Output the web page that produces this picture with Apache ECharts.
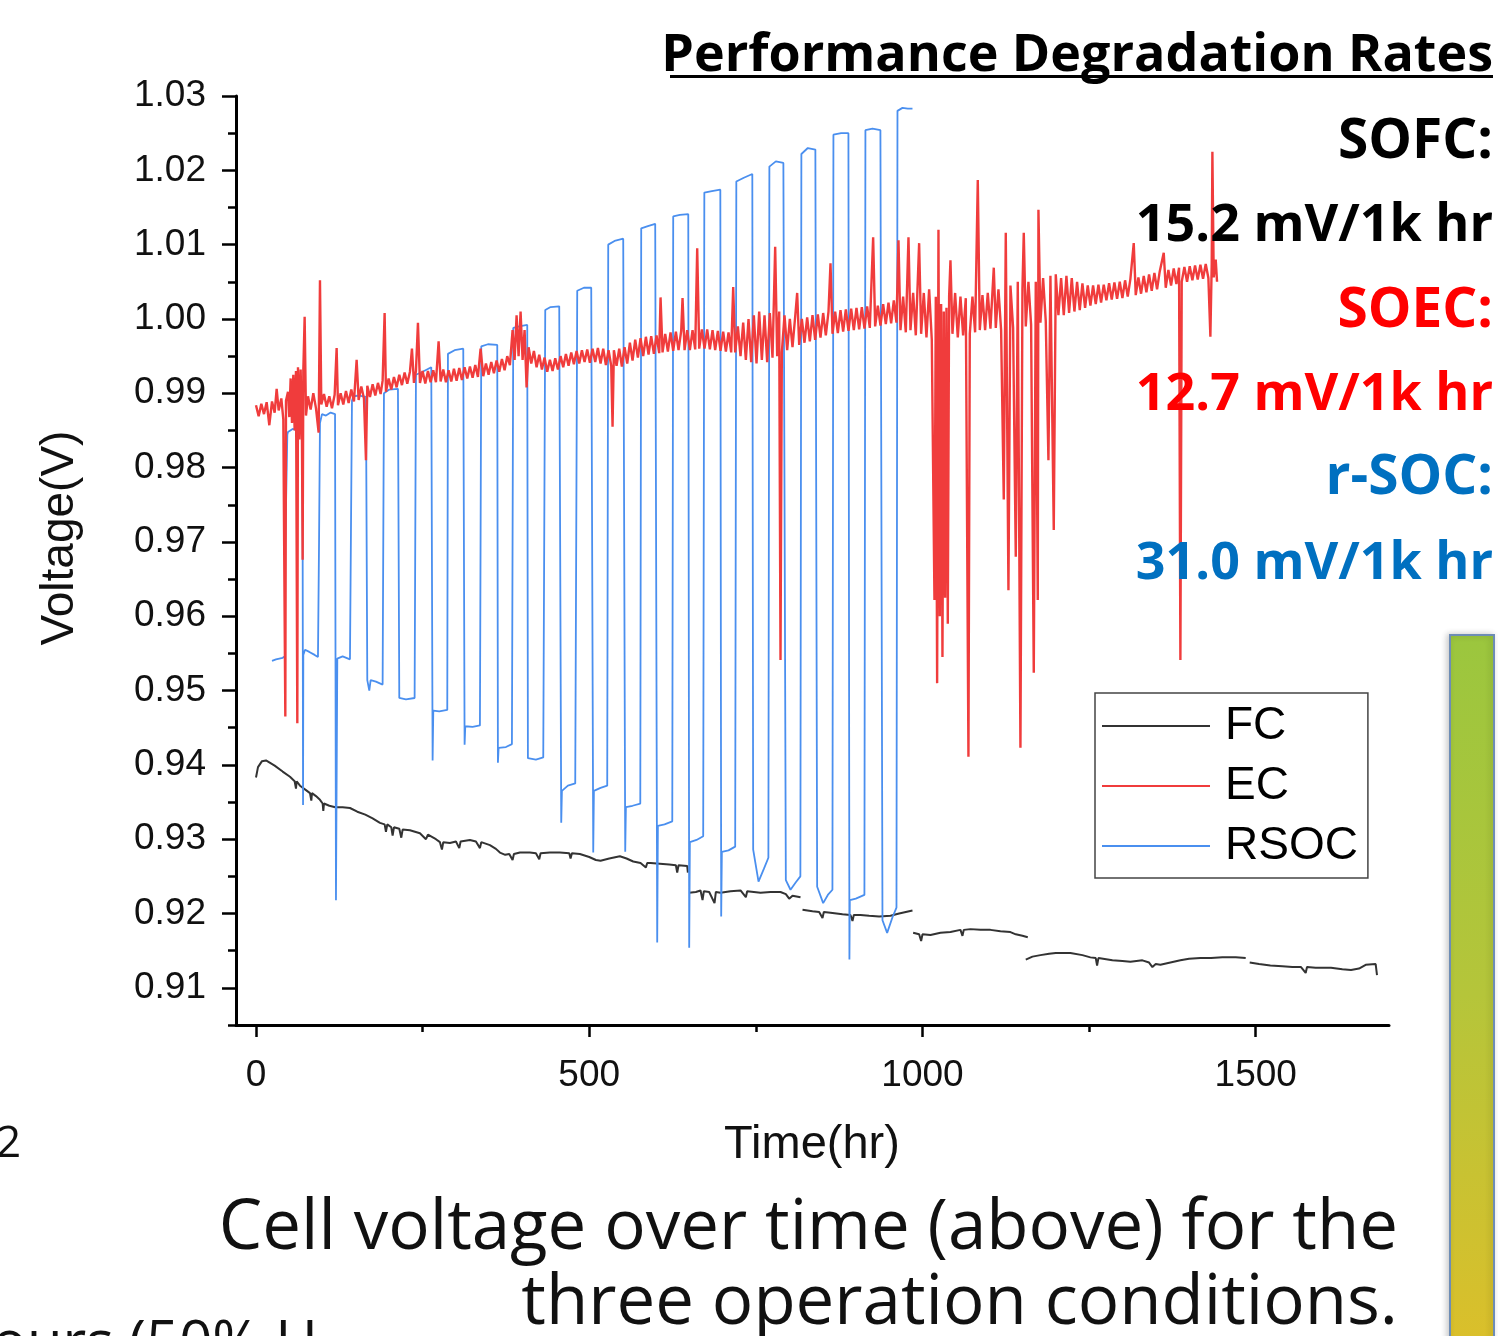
<!DOCTYPE html>
<html>
<head>
<meta charset="utf-8">
<script src="https://cdn.jsdelivr.net/npm/echarts@6/dist/echarts.min.js"></script>
<style>
html,body{margin:0;padding:0;background:#fff;}
#chart{width:1498px;height:1336px;}
</style>
</head>
<body>
<div id="chart"></div>
<script>
// ---- axis ticks ----
var xMajorTicks = [0, 500, 1000, 1500];
var xMinorTicks = [250, 750, 1250];
var yMajorTicks = [0.91, 0.92, 0.93, 0.94, 0.95, 0.96, 0.97, 0.98, 0.99, 1.00, 1.01, 1.02, 1.03];
var yMinorTicks = [0.905, 0.915, 0.925, 0.935, 0.945, 0.955, 0.965, 0.975, 0.985, 0.995, 1.005, 1.015, 1.025];
var seriesNames = ['FC', 'EC', 'RSOC'];

// ---- FC (fuel cell) voltage, [time h, V], segments ----
var fcSeg1 = [[0,0.9383],[3,0.9397],[9,0.9405],[15,0.9406],[28,0.9399],[40,0.9391],[51,0.9384],[58,0.9378],[60,0.9368],[61,0.9378],[66,0.9372],[75,0.9366],[81,0.9362],[83,0.9352],[84,0.9362],[90,0.9358],[96,0.9353],[100,0.9348],[101,0.9338],[102,0.9348],[110,0.9345],[119,0.9343],[130,0.9343],[141,0.9342],[152,0.9337],[164,0.9333],[175,0.9328],[186,0.9322],[193,0.9320],[195,0.9310],[197,0.9320],[203,0.9316],[205,0.9305],[207,0.9316],[209,0.9315],[215,0.9314],[218,0.9302],[220,0.9313],[231,0.9312],[246,0.9308],[255,0.9300],[258,0.9306],[261,0.9304],[270,0.9300],[276,0.9296],[279,0.9286],[281,0.9296],[291,0.9295],[300,0.9297],[305,0.9288],[307,0.9297],[321,0.9299],[330,0.9297],[336,0.9288],[338,0.9296],[351,0.9292],[360,0.9287],[366,0.9282],[374,0.9279],[380,0.9280],[385,0.9272],[387,0.9280],[396,0.9282],[411,0.9282],[420,0.9281],[425,0.9273],[427,0.9281],[441,0.9282],[456,0.9282],[470,0.9281],[472,0.9274],[474,0.9281],[486,0.9280],[500,0.9276],[510,0.9272],[517,0.9271],[530,0.9274],[546,0.9277],[556,0.9274],[566,0.9270],[577,0.9268],[585,0.9262],[587,0.9268],[592,0.9268],[606,0.9267],[620,0.9266],[630,0.9265],[632,0.9255],[634,0.9265],[647,0.9264],[648,0.9255]];
var fcSeg2 = [[650,0.9228],[660,0.9229],[667,0.9231],[670,0.9218],[672,0.9230],[680,0.9229],[688,0.9214],[690,0.9229],[697,0.9228],[712,0.9230],[727,0.9231],[735,0.9222],[737,0.9230],[757,0.9228],[772,0.9229],[787,0.9229],[795,0.9226],[800,0.9220],[805,0.9224],[817,0.9222]];
var fcSeg3 = [[820,0.9205],[835,0.9203],[845,0.9202],[850,0.9194],[852,0.9202],[862,0.9201],[880,0.9199],[892,0.9198],[895,0.9190],[897,0.9198],[907,0.9198],[920,0.9197],[935,0.9196],[952,0.9197],[965,0.9200],[975,0.9202],[985,0.9204]];
var fcSeg4 = [[986,0.9174],[995,0.9172],[998,0.9163],[1000,0.9172],[1012,0.9171],[1027,0.9174],[1042,0.9175],[1057,0.9178],[1060,0.9170],[1062,0.9178],[1072,0.9179],[1087,0.9178],[1102,0.9178],[1117,0.9176],[1132,0.9175],[1140,0.9172],[1150,0.9170],[1158,0.9168]];
var fcSeg5 = [[1155,0.9138],[1165,0.9142],[1177,0.9144],[1190,0.9146],[1200,0.9147],[1222,0.9147],[1240,0.9144],[1252,0.9141],[1260,0.9140],[1262,0.9130],[1264,0.9140],[1267,0.9138],[1285,0.9137],[1300,0.9136],[1312,0.9135],[1330,0.9137],[1340,0.9134],[1345,0.9128],[1350,0.9132],[1357,0.9131],[1372,0.9134],[1387,0.9137],[1400,0.9139],[1417,0.9140],[1433,0.9140],[1450,0.9141],[1470,0.9141],[1485,0.9140]];
var fcSeg6 = [[1491,0.9134],[1505,0.9132],[1522,0.9130],[1540,0.9129],[1555,0.9128],[1568,0.9128],[1575,0.9120],[1577,0.9128],[1590,0.9127],[1613,0.9127],[1630,0.9125],[1643,0.9124],[1655,0.9126],[1665,0.9131],[1680,0.9132],[1682,0.9117]];

// ---- EC (electrolysis) voltage, [time h, V] ----
var ecData = [[0,0.9884],[4,0.9869],[8,0.9886],[12,0.9872],[16,0.9888],[20,0.9857],[24,0.9889],[28,0.9874],[31,0.9906],[34,0.9877],[38,0.9893],[41,0.9865],[44,0.9465],[45,0.9890],[48,0.9902],[50,0.9868],[52,0.9920],[54,0.9860],[56,0.9925],[58,0.9850],[60,0.9930],[62,0.9456],[63,0.9935],[65,0.9838],[67,0.9932],[69,0.9835],[70,0.9676],[71,0.9930],[73,1.0003],[75,0.9870],[78,0.9896],[82,0.9878],[86,0.9900],[90,0.9880],[94,0.9847],[96,1.0052],[98,0.9885],[102,0.9899],[106,0.9882],[110,0.9896],[114,0.9880],[118,0.9898],[121,0.9961],[123,0.9884],[127,0.9900],[131,0.9885],[135,0.9903],[139,0.9887],[143,0.9905],[147,0.9889],[151,0.9945],[154,0.9891],[158,0.9909],[162,0.9893],[165,0.9810],[167,0.9910],[171,0.9895],[175,0.9912],[179,0.9897],[183,0.9914],[187,0.9899],[190,0.9917],[193,1.0008],[195,0.9902],[199,0.9920],[203,0.9905],[207,0.9922],[211,0.9908],[215,0.9925],[219,0.9911],[223,0.9928],[227,0.9913],[231,0.9929],[234,0.9960],[237,0.9914],[240,0.9930],[243,0.9995],[246,0.9914],[250,0.9930],[254,0.9913],[258,0.9930],[262,0.9915],[266,0.9931],[270,0.9915],[274,0.9970],[277,0.9916],[281,0.9932],[285,0.9915],[289,0.9931],[293,0.9916],[297,0.9933],[301,0.9917],[305,0.9934],[309,0.9918],[313,0.9935],[317,0.9920],[321,0.9936],[325,0.9921],[329,0.9938],[333,0.9922],[337,0.9960],[341,0.9923],[345,0.9940],[349,0.9925],[353,0.9942],[357,0.9927],[361,0.9944],[365,0.9929],[369,0.9946],[373,0.9931],[377,0.9950],[381,0.9938],[385,0.9985],[388,0.9945],[391,1.0005],[394,0.9950],[397,1.0010],[400,0.9945],[403,0.9985],[406,0.9908],[409,0.9962],[413,0.9940],[417,0.9957],[421,0.9935],[425,0.9952],[429,0.9932],[433,0.9948],[437,0.9929],[441,0.9945],[445,0.9930],[449,0.9947],[453,0.9932],[457,0.9950],[461,0.9935],[465,0.9953],[469,0.9937],[473,0.9955],[477,0.9939],[481,0.9957],[485,0.9940],[489,0.9958],[493,0.9942],[497,0.9959],[501,0.9941],[505,0.9960],[509,0.9942],[513,0.9961],[517,0.9940],[521,0.9960],[525,0.9938],[529,0.9958],[533,0.9937],[535,0.9855],[537,0.9958],[541,0.9937],[545,0.9960],[549,0.9936],[553,0.9962],[557,0.9940],[561,0.9968],[565,0.9944],[569,0.9972],[573,0.9948],[577,0.9974],[581,0.9950],[585,0.9976],[589,0.9952],[593,0.9977],[597,0.9953],[601,0.9978],[605,0.9954],[607,1.0029],[610,0.9955],[614,0.9980],[618,0.9956],[622,0.9982],[626,0.9957],[630,0.9983],[634,0.9958],[638,0.9984],[640,1.0028],[643,0.9958],[647,0.9985],[651,0.9958],[655,0.9985],[659,0.9959],[662,1.0095],[665,0.9960],[669,0.9986],[673,0.9960],[677,0.9986],[681,0.9959],[685,0.9985],[689,0.9958],[693,0.9984],[697,0.9957],[701,0.9983],[705,0.9956],[709,0.9982],[713,0.9955],[716,1.0043],[719,0.9955],[723,0.9990],[727,0.9950],[731,0.9995],[735,0.9945],[739,1.0000],[743,0.9942],[747,1.0005],[751,0.9940],[755,1.0010],[759,0.9945],[763,1.0005],[767,0.9942],[771,1.0008],[775,0.9948],[779,1.0097],[782,0.9950],[785,1.0010],[787,0.9541],[789,0.9955],[793,1.0005],[797,0.9958],[801,1.0000],[805,0.9962],[809,1.0003],[812,1.0035],[815,0.9965],[819,1.0000],[823,0.9968],[827,1.0002],[831,0.9970],[835,1.0005],[839,0.9972],[843,1.0006],[847,0.9975],[851,1.0008],[855,0.9978],[859,1.0010],[862,1.0075],[865,0.9980],[869,1.0010],[873,0.9981],[877,1.0012],[881,0.9983],[885,1.0013],[889,0.9984],[893,1.0014],[897,0.9985],[901,1.0015],[905,0.9986],[909,1.0016],[913,0.9987],[917,1.0017],[921,0.9988],[926,1.0110],[929,0.9990],[933,1.0018],[937,0.9991],[941,1.0020],[945,0.9993],[949,1.0022],[953,0.9994],[957,1.0025],[961,0.9995],[964,1.0106],[967,0.9985],[971,1.0030],[975,0.9982],[979,1.0110],[982,0.9985],[986,1.0035],[990,0.9978],[995,1.0102],[998,0.9980],[1002,1.0035],[1006,0.9975],[1010,1.0040],[1014,0.9972],[1018,0.9622],[1020,1.0030],[1022,0.9510],[1024,1.0120],[1026,0.9600],[1028,1.0020],[1030,0.9545],[1032,1.0010],[1034,0.9625],[1036,1.0015],[1038,0.9590],[1040,1.0030],[1042,1.0079],[1045,0.9980],[1049,1.0035],[1053,0.9975],[1057,1.0030],[1061,0.9978],[1065,1.0028],[1069,0.9411],[1071,0.9980],[1075,1.0030],[1079,0.9982],[1083,1.0187],[1086,0.9985],[1090,1.0032],[1094,0.9985],[1098,1.0035],[1102,0.9987],[1107,1.0069],[1110,0.9988],[1114,1.0040],[1118,0.9985],[1122,0.9757],[1125,1.0116],[1129,0.9635],[1132,1.0045],[1136,0.9988],[1140,0.9680],[1143,1.0050],[1147,0.9423],[1150,1.0040],[1152,1.0116],[1155,0.9990],[1159,1.0050],[1163,0.9992],[1167,0.9524],[1170,1.0050],[1173,0.9622],[1174,1.0147],[1177,0.9995],[1181,1.0055],[1185,0.9997],[1189,0.9810],[1192,1.0058],[1197,0.9716],[1200,1.0060],[1204,1.0005],[1208,1.0055],[1212,1.0005],[1216,1.0058],[1220,1.0008],[1224,1.0055],[1228,1.0010],[1232,1.0050],[1236,1.0012],[1240,1.0048],[1244,1.0015],[1248,1.0045],[1252,1.0018],[1256,1.0045],[1260,1.0020],[1264,1.0046],[1268,1.0022],[1272,1.0046],[1276,1.0025],[1280,1.0048],[1284,1.0026],[1288,1.0049],[1292,1.0027],[1296,1.0050],[1300,1.0028],[1304,1.0052],[1308,1.0030],[1312,1.0054],[1317,1.0102],[1320,1.0032],[1324,1.0056],[1328,1.0034],[1332,1.0058],[1336,1.0036],[1340,1.0060],[1344,1.0038],[1348,1.0062],[1352,1.0040],[1356,1.0064],[1362,1.0089],[1365,1.0042],[1369,1.0066],[1373,1.0045],[1377,1.0068],[1381,1.0047],[1385,1.0069],[1387,0.9541],[1389,1.0050],[1393,1.0070],[1397,1.0050],[1401,1.0071],[1405,1.0052],[1409,1.0072],[1413,1.0053],[1417,1.0073],[1421,1.0054],[1425,1.0074],[1429,1.0055],[1432,0.9976],[1434,1.0074],[1435,1.0225],[1437,1.0056],[1440,1.0080],[1442,1.0050]];

// ---- RSOC (reversible) voltage, [time h, V] ----
var rsocData = [[24,0.9540],[30,0.9542],[40,0.9544],[43.5,0.9546],[44,0.9700],[47,0.9844],[48,0.9848],[55,0.9852],[62,0.9850],[69,0.9853],[70,0.9700],[70.6,0.9346],[71,0.9548],[73.6,0.9555],[80,0.9552],[88,0.9548],[93,0.9545],[94.6,0.9700],[96,0.9860],[99,0.9872],[105,0.9870],[112,0.9874],[118.6,0.9872],[120,0.9218],[122,0.9543],[130,0.9546],[141,0.9542],[144,0.9890],[146,0.9896],[155,0.9897],[165,0.9895],[167,0.9514],[170,0.9500],[172,0.9514],[180,0.9512],[190,0.9508],[192,0.9900],[200,0.9905],[213,0.9906],[215,0.9490],[225,0.9488],[238,0.9490],[240,0.9925],[250,0.9929],[263,0.9935],[265,0.9406],[266,0.9473],[275,0.9472],[287,0.9474],[288,0.9953],[298,0.9958],[311,0.9960],[313,0.9427],[314,0.9452],[325,0.9451],[336,0.9453],[338,0.9963],[348,0.9966],[362,0.9965],[363,0.9403],[364,0.9423],[375,0.9424],[384,0.9428],[386,0.9988],[395,0.9990],[407,0.9992],[408,0.9409],[420,0.9407],[431,0.9410],[434,1.0012],[442,1.0016],[455,1.0017],[458,0.9322],[459,0.9365],[468,0.9372],[479,0.9375],[482,1.0038],[492,1.0042],[503,1.0042],[506,0.9282],[507,0.9365],[517,0.9369],[527,0.9372],[528.5,1.0100],[538,1.0105],[551,1.0108],[554,0.9283],[555,0.9343],[565,0.9345],[576.6,0.9348],[578,1.0122],[588,1.0125],[599,1.0128],[602,0.9161],[603,0.9318],[613,0.9320],[624.6,0.9324],[626,1.0138],[636,1.0140],[648.6,1.0141],[650,0.9154],[651,0.9296],[661,0.9299],[671,0.9304],[672.7,1.0170],[684,1.0172],[696.7,1.0174],[698,0.9196],[699,0.9283],[709,0.9285],[719,0.9290],[720.7,1.0185],[732,1.0190],[744.7,1.0195],[746,0.9286],[754,0.9243],[762,0.9260],[768.8,0.9275],[770.3,1.0205],[780,1.0212],[791.3,1.0210],[795,0.9245],[802,0.9232],[810,0.9242],[816.8,0.9250],[818.3,1.0222],[828,1.0230],[839.3,1.0228],[842,0.9236],[851,0.9214],[858,0.9225],[864.9,0.9232],[866.4,1.0248],[878,1.0250],[888.9,1.0250],[890.4,0.9138],[891,0.9218],[900,0.9220],[912.9,0.9225],[914.4,1.0254],[925,1.0256],[936.9,1.0254],[940,0.9191],[947,0.9174],[955,0.9195],[961,0.9208],[962.5,1.0280],[970,1.0284],[978,1.0283],[985,1.0283]];

var fcSegments = [fcSeg1, fcSeg2, fcSeg3, fcSeg4, fcSeg5, fcSeg6];
var FC_COLOR = '#333333', EC_COLOR = '#f03c3c', RSOC_COLOR = '#4a8fef';

var chart = echarts.init(document.getElementById('chart'), null, {renderer: 'canvas'});

var labelFamily = 'Liberation Sans, Arial, sans-serif';

var series = [];
fcSegments.forEach(function (seg) {
  series.push({name: 'FC', type: 'line', data: seg, showSymbol: false, symbol: 'none',
    lineStyle: {width: 2, color: FC_COLOR}, itemStyle: {color: FC_COLOR}, z: 2, animation: false});
});
series.push({name: 'RSOC', type: 'line', data: rsocData, showSymbol: false, symbol: 'none',
  lineStyle: {width: 1.8, color: RSOC_COLOR}, itemStyle: {color: RSOC_COLOR}, z: 3, animation: false});
series.push({name: 'EC', type: 'line', data: ecData, showSymbol: false, symbol: 'none',
  lineStyle: {width: 2.4, color: EC_COLOR}, itemStyle: {color: EC_COLOR}, z: 4, animation: false});

function txt(text, x, y, font, fill, align) {
  return {type: 'text', x: x, y: y, z: 10,
    style: {text: text, textAlign: align || 'right', textVerticalAlign: 'top', font: font, fill: fill}};
}

var option = {
  backgroundColor: '#ffffff',
  animation: false,
  grid: {left: 236, top: 96, width: 1153, height: 929, containLabel: false},
  xAxis: [
    {type: 'value', min: -30, max: 1700, position: 'bottom', gridIndex: 0,
      axisLine: {show: true, onZero: false, lineStyle: {color: '#000', width: 3}},
      axisTick: {show: true, customValues: xMajorTicks, length: 12, lineStyle: {color: '#000', width: 2.5}},
      axisLabel: {show: true, customValues: xMajorTicks, margin: 32, formatter: function (v) { return String(v); }, fontFamily: labelFamily, fontSize: 37, color: '#111'},
      splitLine: {show: false}},
    {type: 'value', min: -30, max: 1700, position: 'bottom', gridIndex: 0,
      axisLine: {show: false, onZero: false},
      axisTick: {show: true, customValues: xMinorTicks, length: 7, lineStyle: {color: '#000', width: 2.5}},
      axisLabel: {show: false}, splitLine: {show: false}}
  ],
  yAxis: [
    {type: 'value', min: 0.905, max: 1.03, position: 'left', gridIndex: 0,
      axisLine: {show: true, onZero: false, lineStyle: {color: '#000', width: 3}},
      axisTick: {show: true, customValues: yMajorTicks, length: 14, lineStyle: {color: '#000', width: 2.5}},
      axisLabel: {show: true, customValues: yMajorTicks, margin: 30, formatter: function (v) { return v.toFixed(2); }, fontFamily: labelFamily, fontSize: 37, color: '#111'},
      splitLine: {show: false}},
    {type: 'value', min: 0.905, max: 1.03, position: 'left', gridIndex: 0,
      axisLine: {show: false, onZero: false},
      axisTick: {show: true, customValues: yMinorTicks, length: 8, lineStyle: {color: '#000', width: 2.5}},
      axisLabel: {show: false}, splitLine: {show: false}}
  ],
  legend: {
    show: true, data: seriesNames, orient: 'vertical', left: 1095, top: 693,
    padding: [10, 10, 9, 7], itemGap: 14, itemWidth: 108, itemHeight: 2, icon: 'rect',
    borderColor: '#444', borderWidth: 1.5, backgroundColor: '#fff',
    textStyle: {fontFamily: labelFamily, fontSize: 46, color: '#000', padding: [0, 0, 0, 10]},
    selectedMode: false
  },
  series: series,
  graphic: [
    {type: 'text', x: 60, y: 538, rotation: Math.PI / 2,
      style: {text: 'Voltage(V)', textAlign: 'center', textVerticalAlign: 'middle',
        font: '46px "Liberation Sans", Arial, sans-serif', fill: '#111'}},
    {type: 'text', x: 812, y: 1145,
      style: {text: 'Time(hr)', textAlign: 'center', textVerticalAlign: 'middle',
        font: '47px "Liberation Sans", Arial, sans-serif', fill: '#111'}},
    txt('Performance Degradation Rates', 1493, 30, 'bold 52px "Open Sans", sans-serif', '#000'),
    {type: 'rect', z: 10, shape: {x: 670, y: 75, width: 823, height: 3}, style: {fill: '#000'}},
    txt('SOFC:', 1493, 115, 'bold 55px "Open Sans", sans-serif', '#000'),
    txt('15.2 mV/1k hr', 1493, 200, 'bold 52px "Open Sans", sans-serif', '#000'),
    txt('SOEC:', 1493, 284, 'bold 55px "Open Sans", sans-serif', '#ff0000'),
    txt('12.7 mV/1k hr', 1493, 369, 'bold 52px "Open Sans", sans-serif', '#ff0000'),
    txt('r-SOC:', 1493, 451, 'bold 55px "Open Sans", sans-serif', '#0070c0'),
    txt('31.0 mV/1k hr', 1493, 538, 'bold 52px "Open Sans", sans-serif', '#0070c0'),
    txt('Cell voltage over time (above) for the', 1398, 1195, '69px "Open Sans", sans-serif', '#111'),
    txt('three operation conditions.', 1398, 1270, '69px "Open Sans", sans-serif', '#111'),
    txt('2', -4, 1122, '44px "Open Sans", sans-serif', '#111', 'left'),
    txt('ours (50% H', -8, 1316, '58px "Open Sans", sans-serif', '#111', 'left'),
    {type: 'rect', z: 5, shape: {x: 1450, y: 635, width: 44, height: 720},
      style: {fill: new echarts.graphic.LinearGradient(0, 0, 0, 1, [{offset: 0, color: '#9bc63e'}, {offset: 0.5, color: '#b5c53a'}, {offset: 1, color: '#dcbf2a'}]),
        stroke: '#6e8db5', lineWidth: 2, shadowBlur: 6, shadowColor: 'rgba(0,0,0,0.2)', shadowOffsetX: -2}}
  ]
};
chart.setOption(option);
</script>
</body>
</html>
